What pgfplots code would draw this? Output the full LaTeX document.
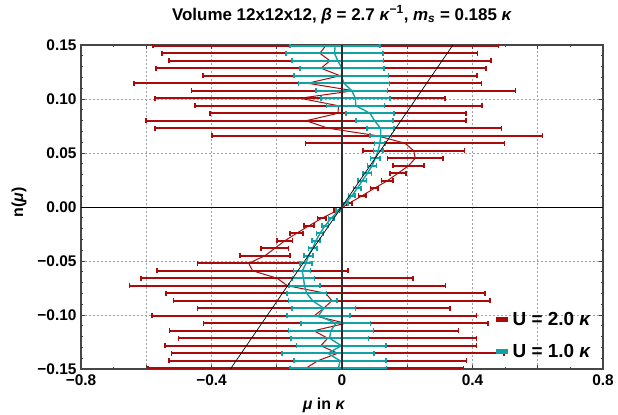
\documentclass[border=0pt]{standalone}
\usepackage{pgfplots}
\pgfplotsset{compat=1.18}
\usepackage{pgfplotstable}
\usepackage{fontspec}
\setmainfont{Liberation Sans}
\definecolor{myred}{RGB}{172,10,10}
\definecolor{mycyan}{RGB}{16,162,164}
\pgfplotstableread{
y x e
-0.149306 -0.111 0.484
-0.142361 -0.074 0.456
-0.135417 -0.013 0.509
-0.128472 -0.065 0.477
-0.121528 -0.044 0.457
-0.114583 -0.086 0.443
-0.107639 0.011 0.436
-0.100694 -0.085 0.498
-0.093750 -0.056 0.387
-0.086806 -0.031 0.485
-0.079861 -0.050 0.489
-0.072917 -0.167 0.485
-0.065972 -0.199 0.417
-0.059028 -0.274 0.293
-0.052083 -0.286 0.157
-0.045139 -0.236 0.077
-0.038194 -0.206 0.042
-0.031250 -0.175 0.024
-0.024306 -0.139 0.020
-0.017361 -0.101 0.015
-0.010417 -0.062 0.013
-0.003472 -0.016 0.008
0.003472 0.022 0.008
0.010417 0.0615 0.0115
0.017361 0.0995 0.0115
0.024306 0.139 0.018
0.031250 0.1715 0.0245
0.038194 0.204 0.047
0.045139 0.2245 0.0855
0.052083 0.220 0.155
0.059028 0.193 0.305
0.065972 0.108 0.506
0.072917 -0.042 0.531
0.079861 -0.110 0.490
0.086806 -0.012 0.392
0.093750 -0.011 0.440
0.100694 -0.129 0.444
0.107639 0.035 0.497
0.114583 -0.105 0.532
0.121528 -0.006 0.420
0.128472 -0.064 0.506
0.135417 -0.037 0.493
0.142361 -0.068 0.484
0.149306 -0.050 0.530
}\redtab
\pgfplotstableread{
y x e
-0.149306 -0.011 0.148
-0.142361 -0.006 0.141
-0.135417 -0.043 0.141
-0.128472 -0.002 0.137
-0.121528 -0.038 0.119
-0.114583 -0.034 0.130
-0.107639 -0.019 0.107
-0.100694 -0.072 0.097
-0.093750 -0.056 0.098
-0.086806 -0.090 0.074
-0.079861 -0.108 0.061
-0.072917 -0.115 0.048
-0.065972 -0.118 0.034
-0.059028 -0.122 0.026
-0.052083 -0.110 0.018
-0.045139 -0.103 0.014
-0.038194 -0.090 0.013
-0.031250 -0.080 0.012
-0.024306 -0.067 0.011
-0.017361 -0.052 0.010
-0.010417 -0.033 0.009
-0.003472 -0.010 0.008
0.003472 0.010 0.008
0.010417 0.030 0.010
0.017361 0.047 0.012
0.024306 0.062 0.013
0.031250 0.078 0.013
0.038194 0.092 0.014
0.045139 0.102 0.014
0.052083 0.111 0.015
0.059028 0.116 0.016
0.065972 0.119 0.033
0.072917 0.118 0.042
0.079861 0.100 0.057
0.086806 0.086 0.073
0.093750 0.042 0.089
0.100694 0.041 0.106
0.107639 0.030 0.109
0.114583 0.006 0.139
0.121528 -0.002 0.145
0.128472 0.000 0.129
0.135417 -0.013 0.140
0.142361 -0.023 0.148
0.149306 -0.021 0.138
}\cyantab
\begin{document}
\begin{tikzpicture}
\begin{axis}[
  scale only axis, width=522bp, height=324bp,
  xmin=-0.8, xmax=0.8, ymin=-0.15, ymax=0.15,
  xtick={-0.8,-0.6,-0.4,-0.2,0,0.2,0.4,0.6,0.8},
  xticklabels={−0.8,,−0.4,,0,,0.4,,0.8},
  ytick={-0.15,-0.1,-0.05,0,0.05,0.1,0.15},
  yticklabels={−0.15,−0.10,−0.05,0.00,0.05,0.10,0.15},
  minor y tick num=4, minor x tick num=1,
  tick align=inside, major tick length=4bp, minor tick length=2bp,
  tick style={gray!50!black, line width=0.6bp},
  ticklabel style={font=\fontsize{15.5}{18}\bfseries\selectfont},
  xticklabel style={yshift=-2.5bp},
  yticklabel style={xshift=-1bp},
  grid=major,
  major grid style={dash pattern=on 2bp off 2bp, gray!75, line width=0.6bp},
  axis line style={gray!55!black, line width=1.1bp},
  title={Volume 12x12x12, \textit{β} = 2.7 \textit{κ}\textsuperscript{−1}, \textit{m}\textsubscript{\textit{s}} = 0.185 \textit{κ}},
  title style={font=\fontsize{17}{20}\bfseries\selectfont, at={(rel axis cs:0.5,1)}, anchor=base, yshift=19bp},
  xlabel={\textit{μ} in \textit{κ}},
  ylabel={n(\textit{μ})},
  every axis x label/.style={at={(rel axis cs:0.4655,0)}, anchor=base, yshift=-40bp, font=\fontsize{16}{19}\bfseries\selectfont},
  every axis y label/.style={at={(rel axis cs:0,0.515)}, xshift=-62bp, rotate=90, anchor=center, font=\fontsize{16}{19}\bfseries\selectfont},
  legend style={draw=none, fill=none, at={(rel axis cs:0.981,0.025)}, anchor=south east, row sep=13bp, font=\fontsize{19}{22}\bfseries\selectfont, inner sep=0pt},
  legend cell align=left,
]
\addplot[myred, line width=1bp, forget plot,
  error bars/.cd, x dir=both, x explicit, error mark=|,
  error bar style={line width=2.1bp, myred},
  error mark options={myred, line width=1.5bp, mark size=2.5bp}]
  table[x=x, y=y, x error=e] {\redtab};
\addplot[mycyan, line width=1.4bp, forget plot,
  error bars/.cd, x dir=both, x explicit, error mark=|,
  error bar style={line width=2.1bp, mycyan},
  error mark options={mycyan, line width=1.5bp, mark size=2.5bp}]
  table[x=x, y=y, x error=e] {\cyantab};
\addplot[black, line width=0.7bp, forget plot] coordinates {(-0.342,-0.15) (0.340,0.15)};
\draw[black, line width=0.8bp] (axis cs:-0.8,0) -- (axis cs:0.8,0);
\draw[gray!35!black, line width=1.2bp] (axis cs:0,-0.15) -- (axis cs:0,0.15);
\addlegendimage{legend image code/.code={\draw[myred, line width=5bp] (0.05cm,0bp) -- (0.47cm,0bp);}}
\addlegendentry{U = 2.0 \textit{κ}}
\addlegendimage{legend image code/.code={\draw[mycyan, line width=5bp] (0.05cm,0bp) -- (0.47cm,0bp);}}
\addlegendentry{U = 1.0 \textit{κ}}
\end{axis}
\pgfresetboundingbox
\path (current axis.south west) ++(-81bp,-46bp) rectangle ++(618bp,415bp);
\end{tikzpicture}
\end{document}
